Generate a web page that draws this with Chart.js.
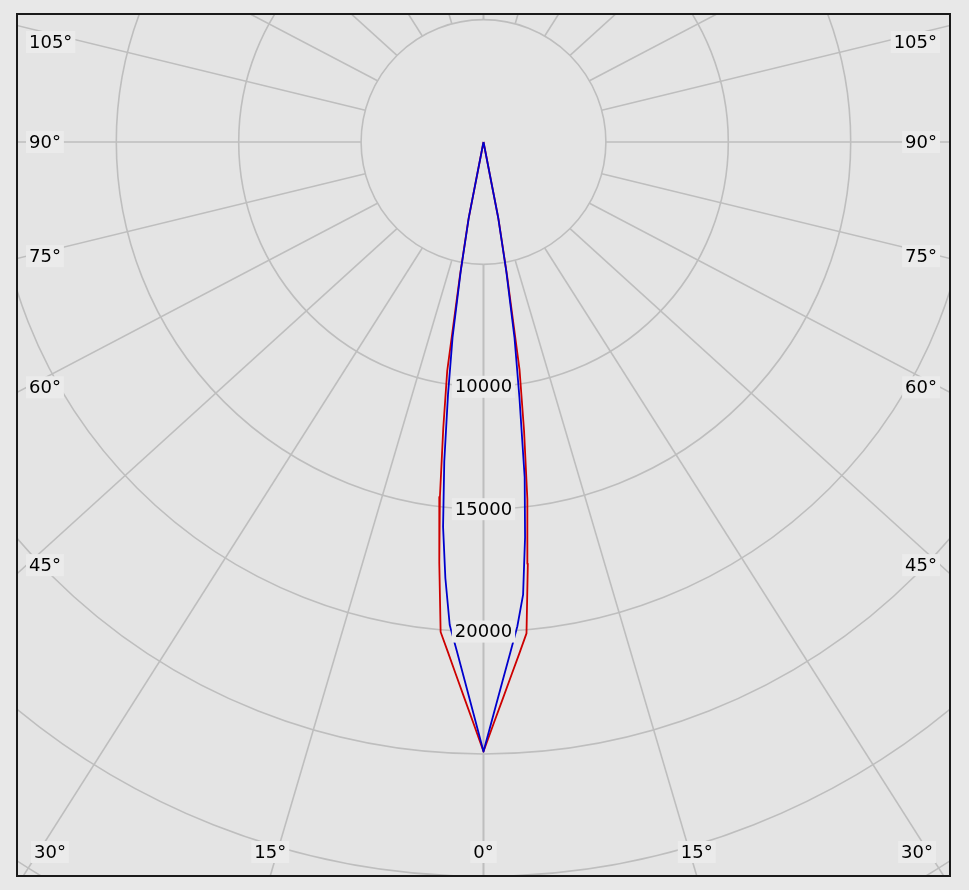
<!DOCTYPE html>
<html>
<head>
<meta charset="utf-8">
<title>Polar intensity diagram</title>
<script src="https://cdn.jsdelivr.net/npm/chart.js@4.4.0/dist/chart.umd.min.js"></script>
<style>
    html, body { margin: 0; padding: 0; background: #e8e8e8; }
</style>
</head>
<body>
<canvas id="polarChart" width="969" height="890"></canvas>
<script>

// gamma angles in degrees from nadir
const angles = [0, 1, 2, 3, 4, 5, 6, 7, 8, 9, 10, 11, 12];

// intensity in cd, red = C0/C180 plane, blue = C90/C270 plane
const redLeft   = [24900, 23740, 22700, 21750, 20880, 20090, 17280, 14610, 11810, 9480, 5540, 3230, 0];
const redRight  = [24900, 23760, 22740, 21800, 20950, 20150, 17320, 14700, 11900, 9400, 5550, 3200, 0];
const blueLeft  = [24900, 23360, 22010, 20820, 19780, 17880, 15800, 13150, 10420, 8080, 5350, 3150, 0];
const blueRight = [24900, 23390, 22060, 20890, 19830, 18560, 16240, 13800, 10550, 8100, 5350, 3120, 0];

// grid and tick labels
const rings = [5000, 10000, 15000, 20000, 25000, 30000, 35000];
const valueLabels = [10000, 15000, 20000];
const angleLabels = [0, 15, 30, 45, 60, 75, 90, 105];

const FONT = '18px "DejaVu Sans", Verdana, sans-serif';
const GRID = '#bebebe';
const LABEL_BG = '#ebebeb';

// 24.48 px for every 1000 cd, pole at (483.5, 142) inside the frame 17..950 x 14..876
const cdPerPx = 1000 / 24.48;

function toPoints(left, right) {
    const pts = [];
    for (let i = angles.length - 1; i >= 0; i--) {
        const t = angles[i] * Math.PI / 180;
        pts.push({x: -left[i] * Math.sin(t), y: -left[i] * Math.cos(t)});
    }
    for (let i = 0; i < angles.length; i++) {
        const t = angles[i] * Math.PI / 180;
        pts.push({x: right[i] * Math.sin(t), y: -right[i] * Math.cos(t)});
    }
    return pts;
}

// where a spoke leaves the frame
function frameHit(p1, p2, a) {
    const dx = p2.x - p1.x, dy = p2.y - p1.y;
    let best = null;
    const test = function (t, edge) {
        if (t <= 0) return;
        const hx = p1.x + dx * t, hy = p1.y + dy * t;
        if (hx < a.left - 0.5 || hx > a.right + 0.5 || hy < a.top - 0.5 || hy > a.bottom + 0.5) return;
        if (!best || t < best.t) best = {t: t, x: hx, y: hy, edge: edge};
    };
    if (dx !== 0) {
        test((a.left - p1.x) / dx, 'left');
        test((a.right - p1.x) / dx, 'right');
    }
    if (dy !== 0) {
        test((a.top - p1.y) / dy, 'top');
        test((a.bottom - p1.y) / dy, 'bottom');
    }
    return best;
}

function boxedText(ctx, text, x, y, align) {
    ctx.font = FONT;
    const w = ctx.measureText(text).width;
    let left = x - w / 2;
    if (align === 'left') left = x;
    if (align === 'right') left = x - w;
    ctx.fillStyle = LABEL_BG;
    ctx.fillRect(left - 3, y - 11, w + 6, 22);
    ctx.fillStyle = '#000';
    ctx.textAlign = 'left';
    ctx.textBaseline = 'middle';
    ctx.fillText(text, left, y + 1);
}

function spokeEnds(chart, deg, side) {
    const sx = chart.scales.x, sy = chart.scales.y;
    const t = deg * Math.PI / 180;
    const inner = rings[0], outer = 40000;
    return [
        {x: sx.getPixelForValue(side * inner * Math.sin(t)), y: sy.getPixelForValue(-inner * Math.cos(t))},
        {x: sx.getPixelForValue(side * outer * Math.sin(t)), y: sy.getPixelForValue(-outer * 0.92 * Math.cos(t))}
    ];
}

const polarGrid = {
    id: 'polarGrid',
    beforeDatasetsDraw: function (chart) {
        const ctx = chart.ctx, a = chart.chartArea;
        const sx = chart.scales.x, sy = chart.scales.y;
        const cx = sx.getPixelForValue(0), cy = sy.getPixelForValue(0);
        ctx.save();
        ctx.fillStyle = '#e4e4e4';
        ctx.fillRect(a.left, a.top, a.right - a.left, a.bottom - a.top);
        ctx.beginPath();
        ctx.rect(a.left, a.top, a.right - a.left, a.bottom - a.top);
        ctx.clip();
        ctx.strokeStyle = GRID;
        ctx.lineWidth = 1.6;
        rings.forEach(function (v) {
            const r = sx.getPixelForValue(v) - cx;
            ctx.beginPath();
            ctx.arc(cx, cy, r, 0, Math.PI * 2);
            ctx.stroke();
        });
        for (let d = 0; d <= 180; d += 15) {
            [-1, 1].forEach(function (side) {
                const e = spokeEnds(chart, d, side);
                ctx.beginPath();
                ctx.moveTo(e[0].x, e[0].y);
                ctx.lineTo(e[1].x, e[1].y);
                ctx.stroke();
            });
        }
        ctx.restore();
    },
    afterDatasetsDraw: function (chart) {
        const ctx = chart.ctx, a = chart.chartArea;
        const sx = chart.scales.x, sy = chart.scales.y;
        const cy = sy.getPixelForValue(0);
        ctx.save();
        ctx.font = FONT;

        // angle labels where the spokes reach the frame
        angleLabels.forEach(function (d) {
            const sides = d === 0 ? [1] : [-1, 1];
            sides.forEach(function (side) {
                const e = spokeEnds(chart, d, side);
                const hit = frameHit(e[0], e[1], a);
                if (!hit) return;
                const text = d + '\u00b0';
                const w = ctx.measureText(text).width;
                if (hit.edge === 'bottom') {
                    const x = Math.min(Math.max(hit.x, a.left + 17 + w / 2), a.right - 17 - w / 2);
                    boxedText(ctx, text, x, a.bottom - 24, 'center');
                } else {
                    let y = cy + (hit.y - cy) * 0.98;
                    y = Math.min(Math.max(y, a.top + 28), a.bottom - 24);
                    if (side < 0) boxedText(ctx, text, a.left + 12, y, 'left');
                    else boxedText(ctx, text, a.right - 13, y, 'right');
                }
            });
        });

        // intensity labels along the nadir spoke
        valueLabels.forEach(function (v) {
            boxedText(ctx, String(v), sx.getPixelForValue(0), sy.getPixelForValue(-v), 'center');
        });

        ctx.strokeStyle = '#1a1a1a';
        ctx.lineWidth = 2;
        ctx.strokeRect(a.left, a.top, a.right - a.left, a.bottom - a.top);
        ctx.restore();
    }
};

const ctx = document.getElementById('polarChart').getContext('2d');

const polarChart = new Chart(ctx, {
    type: 'scatter',
    data: {
        datasets: [{
            label: 'C90-C270',
            data: toPoints(blueLeft, blueRight),
            showLine: true,
            borderColor: 'rgb(0, 0, 205)',
            borderWidth: 1.8,
            borderJoinStyle: 'round',
            pointRadius: 0,
            tension: 0
        }, {
            label: 'C0-C180',
            data: toPoints(redLeft, redRight),
            showLine: true,
            borderColor: 'rgb(205, 0, 0)',
            borderWidth: 1.8,
            borderJoinStyle: 'round',
            pointRadius: 0,
            tension: 0
        }]
    },
    options: {
        responsive: false,
        animation: false,
        layout: {padding: {left: 17, top: 14, right: 19, bottom: 14}},
        scales: {
            x: {type: 'linear', display: false, min: -466.5 * cdPerPx, max: 466.5 * cdPerPx},
            y: {type: 'linear', display: false, min: -734 * cdPerPx, max: 128 * cdPerPx}
        },
        plugins: {
            legend: {display: false},
            tooltip: {enabled: false}
        }
    },
    plugins: [polarGrid]
});
</script>
</body>
</html>
